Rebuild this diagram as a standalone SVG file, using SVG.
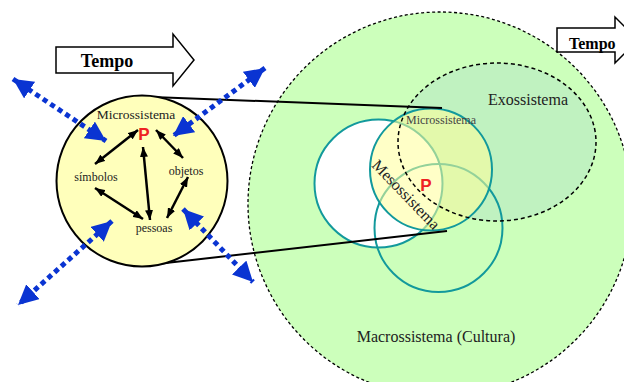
<svg xmlns="http://www.w3.org/2000/svg" width="624" height="382" viewBox="0 0 624 382">
<style>
.serif{font-family:"Liberation Serif","Times New Roman",serif;fill:#222}
.p{font-family:"Liberation Sans",Arial,sans-serif;font-weight:bold;fill:#ee2222}
.teal{fill:none;stroke:#12999c;stroke-width:2}
.blue{stroke:#0a34d2;stroke-width:5;stroke-dasharray:5 4;fill:none}
.blk{stroke:#000;stroke-width:2.5;fill:none}
.tempo{fill:#fff;stroke:#000;stroke-width:1.5}
</style>
<defs>
<marker id="bh" viewBox="0 0 20 20" refX="20" refY="10" markerWidth="20" markerHeight="20" markerUnits="userSpaceOnUse" orient="auto-start-reverse">
<path d="M0,0 L20,10 L0,20 z" fill="#0a34d2"/>
</marker>
<marker id="kh" viewBox="0 0 10 8" refX="10" refY="4" markerWidth="10" markerHeight="8" markerUnits="userSpaceOnUse" orient="auto-start-reverse">
<path d="M0,0 L10,4 L0,8 z" fill="#000"/>
</marker>
</defs>

<g id="macrossistema">
<circle cx="440" cy="204" r="192" fill="#ccffbb" stroke="#000" stroke-width="1.3" stroke-dasharray="3 2.5"/>
<text class="serif" x="436" y="342" font-size="16" text-anchor="middle">Macrossistema (Cultura)</text>
</g>

<g id="exossistema-fill">
<ellipse cx="497" cy="142" rx="99" ry="79" fill="#c0f2c0"/>
</g>

<g id="meso-circles">
<circle cx="378.5" cy="183.5" r="64" class="teal" style="fill:#fff"/>
<circle class="teal" cx="438.5" cy="228" r="64"/>
<circle cx="431" cy="169.5" r="61" fill="#ffff99" fill-opacity="0.55"/>
<circle class="teal" cx="431" cy="169.5" r="61"/>
</g>

<g id="exossistema">
<ellipse cx="497" cy="142" rx="99" ry="79" fill="none" stroke="#000" stroke-width="1.5" stroke-dasharray="4 3"/>
<text class="serif" x="528" y="105" font-size="16" text-anchor="middle">Exossistema</text>
</g>

<g id="meso-labels">
<text class="serif" x="441" y="124" font-size="12" text-anchor="middle" style="fill:#444">Microssistema</text>
<text class="serif" font-size="16" transform="translate(371,166) rotate(46)">Mesossistema</text>
<text class="p" x="426" y="191" font-size="17" text-anchor="middle">P</text>
</g>

<g id="connectors">
<line x1="152" y1="97" x2="442" y2="108" stroke="#000" stroke-width="2"/>
<line x1="157" y1="264" x2="447" y2="231" stroke="#000" stroke-width="2"/>
</g>

<g id="microssistema">
<circle cx="142" cy="181" r="85.5" fill="#ffffbb" stroke="#000" stroke-width="2"/>
<text class="serif" x="136" y="119" font-size="13.5" text-anchor="middle">Microssistema</text>
<text class="p" x="144" y="140" font-size="17" text-anchor="middle">P</text>
<text class="serif" x="96" y="181" font-size="12" text-anchor="middle">símbolos</text>
<text class="serif" x="186" y="175" font-size="12" text-anchor="middle">objetos</text>
<text class="serif" x="154" y="232" font-size="12" text-anchor="middle">pessoas</text>
</g>

<g id="micro-arrows">
<line class="blk" x1="138" y1="130" x2="95" y2="164" marker-start="url(#kh)" marker-end="url(#kh)"/>
<line class="blk" x1="156" y1="130" x2="183" y2="158" marker-start="url(#kh)" marker-end="url(#kh)"/>
<line class="blk" x1="143" y1="147" x2="150" y2="220" marker-start="url(#kh)" marker-end="url(#kh)"/>
<line class="blk" x1="95" y1="188" x2="143" y2="219" marker-start="url(#kh)" marker-end="url(#kh)"/>
<line class="blk" x1="188" y1="177" x2="167" y2="218" marker-start="url(#kh)" marker-end="url(#kh)"/>
</g>

<g id="blue-arrows">
<line class="blue" x1="13" y1="79" x2="106" y2="141" marker-start="url(#bh)" marker-end="url(#bh)"/>
<line class="blue" x1="265" y1="68" x2="173" y2="136" marker-start="url(#bh)" marker-end="url(#bh)"/>
<line class="blue" x1="112" y1="221" x2="18" y2="305" marker-start="url(#bh)" marker-end="url(#bh)"/>
<line class="blue" x1="183" y1="209" x2="253" y2="282" marker-start="url(#bh)" marker-end="url(#bh)"/>
</g>

<g id="tempo-left">
<path class="tempo" d="M56,47 H173 V34 L194,60 L173,86 V73 H56 Z"/>
<text class="serif" x="107" y="67" font-size="18" font-weight="bold" text-anchor="middle" style="fill:#000">Tempo</text>
</g>

<g id="tempo-right">
<path class="tempo" d="M557,28 H615 V17 L638,40 L615,63 V52 H557 Z"/>
<text class="serif" x="569" y="49" font-size="16" font-weight="bold" style="fill:#000">Tempo</text>
</g>
</svg>
